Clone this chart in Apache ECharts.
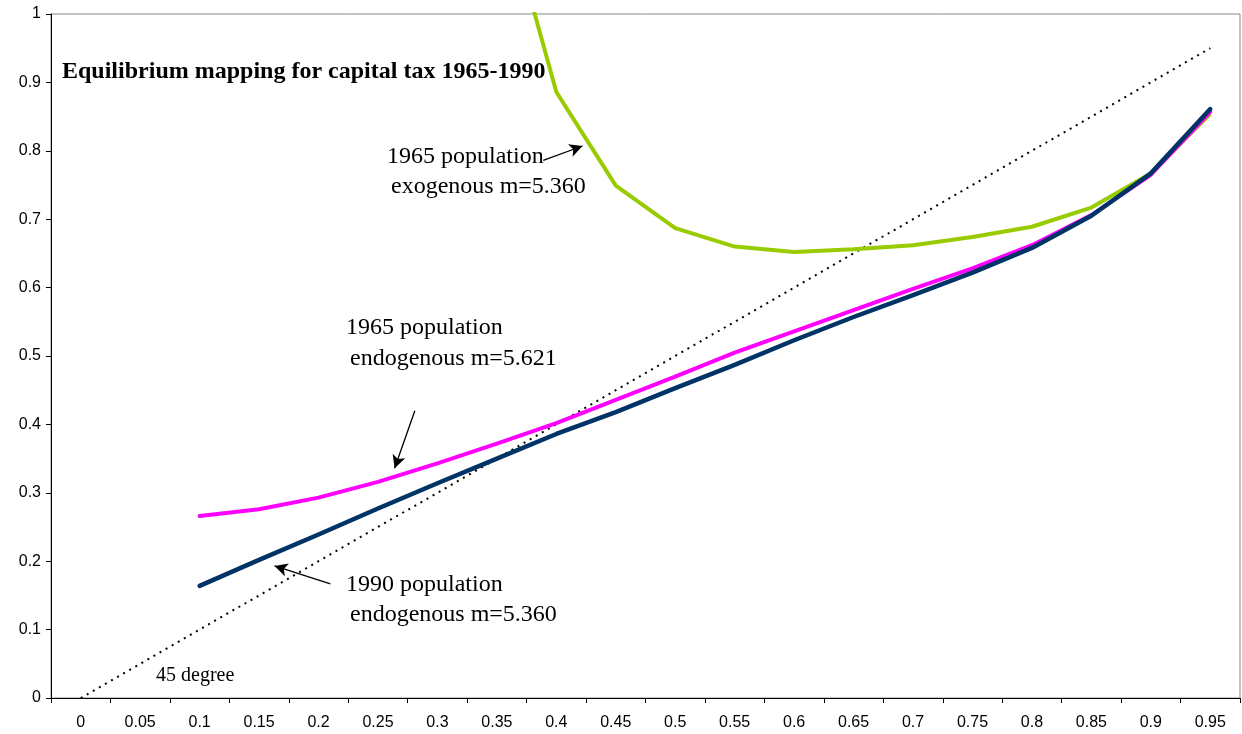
<!DOCTYPE html>
<html>
<head>
<meta charset="utf-8">
<script src="https://cdn.jsdelivr.net/npm/echarts@6/dist/echarts.min.js"></script>
<style>
html,body{margin:0;padding:0;background:#fff;}
#chart{width:1242px;height:734px;}
</style>
</head>
<body>
<div id="chart"></div>
<script>
const categories = ['0','0.05','0.1','0.15','0.2','0.25','0.3','0.35','0.4','0.45','0.5','0.55','0.6','0.65','0.7','0.75','0.8','0.85','0.9','0.95'];
const xValues = [0,0.05,0.1,0.15,0.2,0.25,0.3,0.35,0.4,0.45,0.5,0.55,0.6,0.65,0.7,0.75,0.8,0.85,0.9,0.95];
const yTicks = [0,0.1,0.2,0.3,0.4,0.5,0.6,0.7,0.8,0.9,1];
const exogenous1965 = [null,null,null,null,null,null,null,1.2,0.886,0.749,0.687,0.660,0.652,0.656,0.662,0.674,0.689,0.717,0.767,0.854];
const endogenous1965 = [null,null,0.266,0.276,0.293,0.316,0.343,0.372,0.402,0.436,0.470,0.505,0.536,0.567,0.598,0.628,0.662,0.706,0.765,0.857];
const endogenous1990 = [null,null,0.164,0.202,0.239,0.277,0.314,0.350,0.386,0.418,0.453,0.487,0.523,0.557,0.589,0.622,0.658,0.705,0.767,0.861];
const degree45 = [0,0.05,0.1,0.15,0.2,0.25,0.3,0.35,0.4,0.45,0.5,0.55,0.6,0.65,0.7,0.75,0.8,0.85,0.9,0.95];

// annotation arrows in data coordinates [x, y]
const arrowExo = [[0.389,0.786],[0.422,0.807]];
const arrowEndo65 = [[0.281,0.420],[0.264,0.336]];
const arrowEndo90 = [[0.210,0.167],[0.163,0.193]];

function pairs(vals){ return xValues.map((x,i)=>[x, vals[i]]); }

const chart = echarts.init(document.getElementById('chart'), null, {renderer:'canvas'});
const serif = '"Liberation Serif","Times New Roman",serif';
const sans = '"Liberation Sans",Arial,sans-serif';

function arrowLine(a){
  return [{coord:a[0]},{coord:a[1]}];
}

chart.setOption({
  animation:false,
  backgroundColor:'#fff',
  grid:{left:51,right:2,top:14,bottom:36,show:true,borderColor:'#888',borderWidth:1,containLabel:false},
  xAxis:[
    {type:'category',data:categories,boundaryGap:true,
     axisLine:{onZero:false,lineStyle:{color:'#000',width:1}},
     axisTick:{show:true,inside:false,length:5,alignWithLabel:false,lineStyle:{color:'#000'}},
     axisLabel:{color:'#000',fontFamily:sans,fontSize:16,margin:17,interval:0},
     splitLine:{show:false}},
    {type:'value',min:-0.025,max:0.975,show:false,splitLine:{show:false}}
  ],
  yAxis:{type:'value',min:yTicks[0],max:yTicks[yTicks.length-1],interval:0.1,
    axisLine:{show:true,onZero:false,lineStyle:{color:'#000',width:1}},
    axisTick:{show:true,length:5,lineStyle:{color:'#000'}},
    axisLabel:{color:'#000',fontFamily:sans,fontSize:16,margin:10},
    splitLine:{show:false}},
  series:[
    {name:'45 degree',type:'line',xAxisIndex:1,data:pairs(degree45),showSymbol:false,silent:true,
     lineStyle:{color:'#000',width:2,type:[2,5]},
     markLine:{silent:true,symbol:['none','arrow'],symbolSize:[10,13],label:{show:false},
       lineStyle:{color:'#000',width:1.3,type:'solid'},
       data:[arrowLine(arrowExo),arrowLine(arrowEndo65),arrowLine(arrowEndo90)]}},
    {name:'1965 exogenous',type:'line',xAxisIndex:1,data:pairs(exogenous1965),showSymbol:false,silent:true,clip:true,
     lineStyle:{color:'#99CC00',width:4,join:'round'}},
    {name:'1965 endogenous',type:'line',xAxisIndex:1,data:pairs(endogenous1965),showSymbol:false,silent:true,
     lineStyle:{color:'#FF00FF',width:4,cap:'round',join:'round'}},
    {name:'1990 endogenous',type:'line',xAxisIndex:1,data:pairs(endogenous1990),showSymbol:false,silent:true,
     lineStyle:{color:'#003366',width:4.5,cap:'round',join:'round'}}
  ],
  graphic:[
    {type:'text',x:62,y:72,style:{text:'Equilibrium mapping for capital tax 1965-1990',font:'bold 24px '+serif,fill:'#000',verticalAlign:'middle'}},
    {type:'text',x:387,y:157,style:{text:'1965 population',font:'24px '+serif,fill:'#000',verticalAlign:'middle'}},
    {type:'text',x:391,y:187,style:{text:'exogenous m=5.360',font:'24px '+serif,fill:'#000',verticalAlign:'middle'}},
    {type:'text',x:346,y:328,style:{text:'1965 population',font:'24px '+serif,fill:'#000',verticalAlign:'middle'}},
    {type:'text',x:350,y:359,style:{text:'endogenous m=5.621',font:'24px '+serif,fill:'#000',verticalAlign:'middle'}},
    {type:'text',x:346,y:585,style:{text:'1990 population',font:'24px '+serif,fill:'#000',verticalAlign:'middle'}},
    {type:'text',x:350,y:615,style:{text:'endogenous m=5.360',font:'24px '+serif,fill:'#000',verticalAlign:'middle'}},
    {type:'text',x:156,y:676,style:{text:'45 degree',font:'20px '+serif,fill:'#000',verticalAlign:'middle'}}
  ]
});
</script>
</body>
</html>
